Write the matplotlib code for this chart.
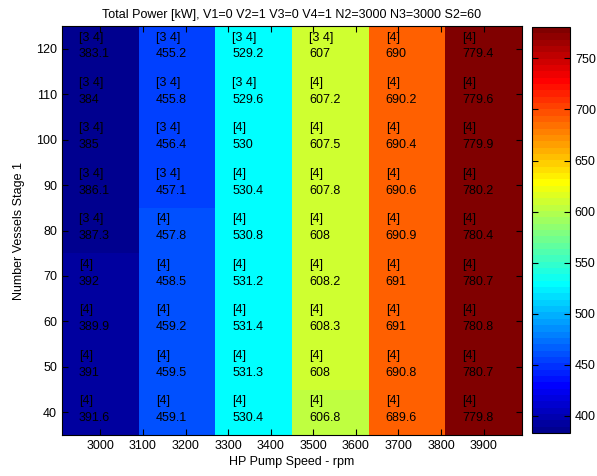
import numpy as np
import matplotlib
matplotlib.use('Agg')
import matplotlib.pyplot as plt
from matplotlib.colors import ListedColormap

plt.rcParams['font.family'] = ['Liberation Sans', 'DejaVu Sans']
plt.rcParams['font.size'] = 9

# pump speeds (columns) and vessel counts (rows, bottom -> top)
speeds = [3000, 3180, 3360, 3540, 3720, 3900]
vessels = [40, 50, 60, 70, 80, 90, 100, 110, 120]

# total power, one list per speed column, rows bottom -> top
power = [
    [391.6, 391.0, 389.9, 392.0, 387.3, 386.1, 385.0, 384.0, 383.1],
    [459.1, 459.5, 459.2, 458.5, 457.8, 457.1, 456.4, 455.8, 455.2],
    [530.4, 531.3, 531.4, 531.2, 530.8, 530.4, 530.0, 529.6, 529.2],
    [606.8, 608.0, 608.3, 608.2, 608.0, 607.8, 607.5, 607.2, 607.0],
    [689.6, 690.8, 691.0, 691.0, 690.9, 690.6, 690.4, 690.2, 690.0],
    [779.8, 780.7, 780.8, 780.7, 780.4, 780.2, 779.9, 779.6, 779.4],
]

# active vessel sets, same layout
stages = [
    ['[4]', '[4]', '[4]', '[4]', '[3 4]', '[3 4]', '[3 4]', '[3 4]', '[3 4]'],
    ['[4]', '[4]', '[4]', '[4]', '[4]', '[3 4]', '[3 4]', '[3 4]', '[3 4]'],
    ['[4]', '[4]', '[4]', '[4]', '[4]', '[4]', '[4]', '[3 4]', '[3 4]'],
    ['[4]', '[4]', '[4]', '[4]', '[4]', '[4]', '[4]', '[4]', '[3 4]'],
    ['[4]'] * 9,
    ['[4]'] * 9,
]


# matlab style jet(64)
def matlab_jet(m=64):
    n = int(np.ceil(m / 4))
    u = np.concatenate([np.arange(1, n + 1) / n, np.ones(n - 1), np.arange(n, 0, -1) / n])
    g = int(np.ceil(n / 2)) - (1 if m % 4 == 1 else 0) + np.arange(1, len(u) + 1)
    r = g + n
    b = g - n
    J = np.zeros((m, 3))
    for col, idx in ((0, r), (1, g), (2, b)):
        ok = (idx >= 1) & (idx <= m)
        J[idx[ok] - 1, col] = u[ok]
    return ListedColormap(J)


Z = np.array(power).T
vmin, vmax = Z.min(), Z.max()
cmap = matlab_jet(64)

fig = plt.figure(figsize=(5.97, 4.76), dpi=100)
ax = fig.add_axes([62/597, 1-435/476, 460/597, 409/476])
mesh = ax.pcolormesh(speeds, vessels, Z, shading='nearest', cmap=cmap,
                     vmin=vmin, vmax=vmax)

for i, s in enumerate(speeds):
    for j, v in enumerate(vessels):
        txt = stages[i][j] + '\n' + ('%g' % power[i][j])
        ax.text(s - 50, v + 0.6, txt, ha='left', va='center', fontsize=9,
                linespacing=1.55, color='black')

ax.set_xticks(np.arange(3000, 3901, 100))
ax.set_yticks(vessels)
ax.tick_params(direction='in', top=True, right=True, length=4, labelsize=9)
ax.set_title('Total Power [kW], V1=0 V2=1 V3=0 V4=1 N2=3000 N3=3000 S2=60',
             fontsize=9, pad=6)
ax.set_xlabel('HP Pump Speed - rpm', fontsize=9, labelpad=3)
ax.set_ylabel('Number Vessels Stage 1', fontsize=9, labelpad=8)

cax = fig.add_axes([532/597, 1-433/476, 38/597, 406/476])
cb = fig.colorbar(mesh, cax=cax)
cb.set_ticks(np.arange(400, 751, 50))
cb.ax.tick_params(direction='in', left=True, right=True, length=4, labelsize=9)

fig.savefig('out.png', dpi=100)
